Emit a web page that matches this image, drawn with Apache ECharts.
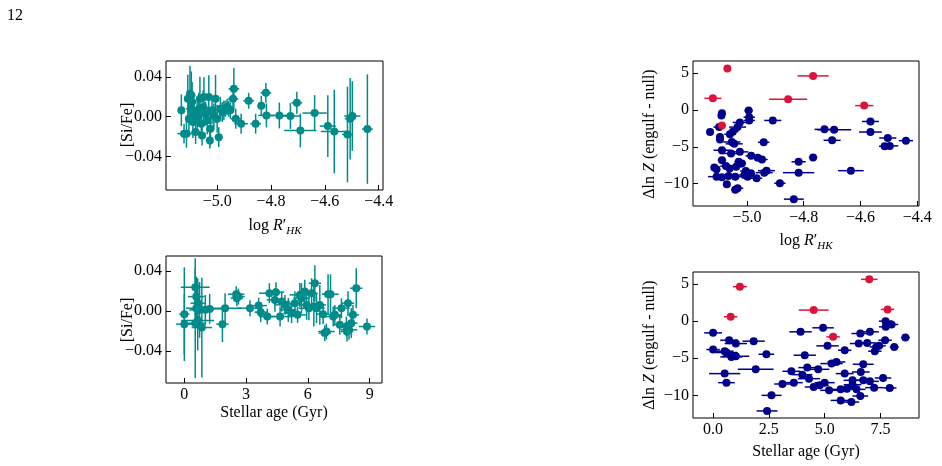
<!DOCTYPE html>
<html>
<head>
<meta charset="utf-8">
<script src="https://cdn.jsdelivr.net/npm/echarts@6/dist/echarts.min.js"></script>
<style>
  html, body { margin: 0; padding: 0; background: #fff; }
  #main { width: 942px; height: 466px; }
</style>
</head>
<body>
<div id="main"></div>
<script>
// ---- top left: log R'HK vs [Si/Fe] ----
var rhkSiX = [-5.133, -5.123, -5.114, -5.109, -5.105, -5.101, -5.096, -5.096, -5.093, -5.090,
  -5.086, -5.080, -5.074, -5.068, -5.064, -5.059, -5.056, -5.052, -5.049, -5.043,
  -5.037, -5.031, -5.027, -5.025, -5.019, -5.012, -5.006, -5.000, -4.994, -4.988,
  -4.981, -4.975, -4.969, -4.963, -4.957, -4.951, -4.938, -4.941, -4.931, -4.911,
  -4.883, -4.857, -4.836, -4.819, -4.817, -4.769, -4.728, -4.704, -4.691, -4.638,
  -4.589, -4.565, -4.516, -4.506, -4.498, -4.442];
var rhkSiY = [0.0064, -0.0170, -0.0171, 0.0181, -0.0020, 0.0232, 0.0215, 0.0081, 0.0148, -0.0054,
  0.0030, -0.0154, -0.0003, 0.0081, 0.0181, -0.0071, -0.0188, 0.0097, 0.0198, 0.0030,
  -0.0037, 0.0198, -0.0238, -0.0121, 0.0064, 0.0013, 0.0181, -0.0020, -0.0205, 0.0081,
  0.0047, 0.0064, 0.0081, 0.0097, 0.0081, 0.0064, 0.0280, 0.0180, -0.0020, -0.0070,
  0.0160, -0.0070, 0.0110, 0.0240, 0.0013, 0.0013, 0.0007, 0.0140, -0.0138, 0.0037,
  -0.0094, -0.0148, -0.0178, -0.0020, 0.0007, -0.0124];
var rhkSiXerr = [0.012, 0.025, 0.020, 0.012, 0.015, 0.010, 0.015, 0.020, 0.010, 0.015,
  0.012, 0.018, 0.015, 0.010, 0.015, 0.020, 0.010, 0.012, 0.015, 0.020,
  0.010, 0.015, 0.010, 0.015, 0.020, 0.015, 0.012, 0.010, 0.015, 0.010,
  0.012, 0.010, 0.012, 0.010, 0.010, 0.010, 0.020, 0.020, 0.020, 0.025,
  0.020, 0.020, 0.015, 0.020, 0.030, 0.040, 0.040, 0.020, 0.060, 0.045,
  0.030, 0.050, 0.020, 0.020, 0.030, 0.020];
var rhkSiYerr = [0.016, 0.010, 0.014, 0.024, 0.016, 0.028, 0.024, 0.014, 0.020, 0.016,
  0.012, 0.012, 0.018, 0.016, 0.022, 0.014, 0.010, 0.017, 0.020, 0.012,
  0.014, 0.022, 0.008, 0.016, 0.014, 0.012, 0.024, 0.014, 0.010, 0.012,
  0.010, 0.010, 0.008, 0.008, 0.008, 0.008, 0.021, 0.010, 0.010, 0.010,
  0.008, 0.010, 0.010, 0.010, 0.012, 0.013, 0.013, 0.011, 0.017, 0.018,
  0.031, 0.042, 0.048, 0.041, 0.035, 0.055];

// ---- top right: log R'HK vs delta ln Z ----
var rhkZBlueX = [-5.130, -5.088, -5.090, -5.098, -5.095, -5.095, -5.060, -5.050, -5.033, -5.025,
  -4.994, -4.992, -4.992, -5.053, -5.045, -5.088, -5.056, -5.025, -4.985, -4.962,
  -4.947, -5.088, -5.115, -5.107, -5.074, -5.061, -5.038, -5.029, -5.018, -5.107,
  -5.088, -5.065, -5.041, -5.009, -5.004, -4.998, -4.986, -4.966, -5.071, -5.041,
  -5.033, -4.941, -4.931, -4.939, -4.909, -4.884, -4.835, -4.818, -4.818, -4.767,
  -4.727, -4.693, -4.700, -4.634, -4.565, -4.565, -4.504, -4.515, -4.497, -4.440];
var rhkZBlueY = [-3.00, -0.45, -0.76, -2.33, -3.67, -4.03, -3.30, -2.96, -2.33, -1.70,
  -0.09, -0.99, -1.43, -4.35, -4.60, -5.47, -5.91, -5.69, -6.23, -6.50,
  -6.72, -6.81, -7.80, -8.06, -7.62, -7.93, -7.71, -7.03, -7.26, -9.05,
  -9.14, -8.96, -9.05, -8.83, -8.29, -9.05, -8.60, -9.27, -10.08, -10.84,
  -10.62, -4.39, -8.24, -8.51, -1.43, -9.95, -12.10, -7.03, -8.51, -6.45,
  -2.64, -2.69, -4.12, -8.24, -1.57, -3.00, -3.81, -4.93, -4.88, -4.17];
var rhkZBlueXerr = [0.010, 0.010, 0.010, 0.020, 0.010, 0.010, 0.020, 0.020, 0.030, 0.025,
  0.015, 0.020, 0.020, 0.030, 0.030, 0.030, 0.040, 0.030, 0.020, 0.020,
  0.020, 0.015, 0.010, 0.010, 0.020, 0.020, 0.020, 0.015, 0.015, 0.030,
  0.020, 0.020, 0.030, 0.020, 0.020, 0.020, 0.015, 0.020, 0.010, 0.015,
  0.020, 0.020, 0.030, 0.030, 0.030, 0.020, 0.035, 0.025, 0.055, 0.015,
  0.035, 0.060, 0.030, 0.045, 0.030, 0.040, 0.030, 0.020, 0.030, 0.025];
var rhkZRedX = [-5.069, -5.120, -4.767, -4.855, -4.587, -5.088];
var rhkZRedY = [5.60, 1.57, 4.61, 1.43, 0.58, -2.10];
var rhkZRedXerr = [0.010, 0.030, 0.055, 0.067, 0.032, 0.008];

// ---- bottom left: stellar age vs [Si/Fe] ----
var ageSiX = [0.00, 0.00, 0.53, 0.58, 0.65, 0.58, 0.74, 0.53, 0.65, 0.85,
  1.23, 1.02, 1.85, 1.98, 2.52, 2.63, 2.55, 3.19, 3.61, 3.71,
  4.03, 4.13, 4.45, 4.40, 4.65, 4.73, 4.89, 5.05, 5.21, 5.37,
  5.50, 5.61, 5.69, 5.85, 5.94, 6.05, 6.18, 6.29, 6.34, 6.42,
  6.58, 6.74, 6.82, 6.90, 6.98, 7.10, 7.23, 7.31, 7.55, 7.63,
  7.87, 7.90, 7.95, 8.00, 8.11, 8.19, 8.35, 8.87];
var ageSiY = [-0.0033, -0.0133, 0.0237, 0.0143, 0.0077, 0.0027, 0.0010, -0.0123, -0.0097, -0.0167,
  0.0020, 0.0010, -0.0133, 0.0027, 0.0167, 0.0143, 0.0127, 0.0027, 0.0053, -0.0013,
  -0.0057, 0.0177, 0.0187, 0.0110, -0.0057, 0.0093, 0.0060, 0.0010, -0.0023, 0.0077,
  -0.0040, 0.0160, 0.0127, 0.0193, 0.0060, 0.0027, 0.0177, 0.0043, 0.0277, 0.0027,
  0.0060, -0.0033, -0.0223, -0.0207, 0.0167, 0.0167, -0.0057, -0.0040, -0.0140, 0.0027,
  -0.0157, -0.0207, 0.0077, -0.0190, -0.0123, -0.0040, 0.0227, -0.0157];
var ageSiXerr = [0.25, 0.40, 0.70, 0.40, 0.35, 0.50, 0.50, 0.50, 0.80, 0.50,
  0.60, 0.40, 0.30, 0.80, 0.40, 0.30, 0.30, 0.60, 0.40, 0.30,
  0.40, 0.50, 0.40, 0.40, 0.50, 0.40, 0.50, 0.40, 0.40, 0.30,
  0.40, 0.50, 0.40, 0.30, 0.40, 0.50, 0.30, 0.40, 0.30, 0.40,
  0.30, 0.30, 0.30, 0.40, 0.30, 0.40, 0.40, 0.30, 0.30, 0.40,
  0.30, 0.30, 0.30, 0.40, 0.30, 0.30, 0.30, 0.40];
var ageSiYerr = [0.047, 0.030, 0.029, 0.020, 0.025, 0.020, 0.028, 0.055, 0.030, 0.050,
  0.015, 0.015, 0.018, 0.015, 0.008, 0.008, 0.008, 0.008, 0.008, 0.010,
  0.008, 0.010, 0.010, 0.012, 0.010, 0.010, 0.010, 0.012, 0.010, 0.012,
  0.008, 0.012, 0.015, 0.012, 0.015, 0.012, 0.015, 0.020, 0.018, 0.015,
  0.020, 0.010, 0.008, 0.008, 0.020, 0.020, 0.010, 0.010, 0.010, 0.010,
  0.010, 0.010, 0.012, 0.010, 0.015, 0.010, 0.020, 0.008];

// ---- bottom right: stellar age vs delta ln Z ----
var ageZBlueX = [0.00, 0.00, 0.52, 0.60, 0.72, 0.82, 1.02, 1.02, 0.52, 0.60,
  1.82, 2.39, 1.91, 2.62, 2.42, 3.11, 3.51, 3.62, 3.92, 4.11,
  4.00, 4.22, 4.30, 4.51, 4.71, 4.78, 5.00, 4.93, 5.13, 5.20,
  5.31, 5.53, 5.72, 5.72, 5.90, 5.90, 6.20, 6.00, 6.25, 6.25,
  6.43, 6.53, 6.60, 6.60, 6.62, 6.73, 6.73, 6.91, 7.03, 7.03,
  7.22, 7.32, 7.44, 7.25, 7.62, 7.71, 7.73, 7.74, 7.92, 8.00,
  8.12, 8.62];
var ageZBlueY = [-1.58, -3.83, -4.05, -4.23, -2.57, -4.82, -4.73, -3.02, -7.07, -8.29,
  -2.70, -4.46, -6.49, -10.00, -12.10, -8.47, -6.76, -8.29, -1.44, -4.59,
  -7.21, -6.26, -7.75, -8.87, -6.49, -8.65, -8.29, -0.90, -3.33, -9.32,
  -5.72, -5.50, -10.68, -9.19, -3.92, -7.07, -10.90, -9.10, -8.56, -7.97,
  -9.19, -3.02, -1.67, -10.09, -6.85, -5.81, -7.97, -2.93, -1.44, -8.11,
  -8.96, -3.47, -3.33, -4.05, -7.66, -2.57, 0.00, -0.77, -9.00, -0.45,
  -3.47, -2.21];
var ageZBlueXerr = [0.40, 0.30, 0.40, 0.50, 0.40, 0.50, 0.60, 0.50, 0.70, 0.37,
  0.50, 0.35, 0.80, 0.45, 0.47, 0.37, 0.40, 0.40, 0.50, 0.50,
  0.45, 0.40, 0.50, 0.40, 0.50, 0.40, 0.45, 0.48, 0.50, 0.40,
  0.50, 0.40, 0.45, 0.40, 0.30, 0.40, 0.35, 0.40, 0.40, 0.40,
  0.40, 0.40, 0.40, 0.35, 0.40, 0.47, 0.40, 0.40, 0.40, 0.40,
  0.40, 0.30, 0.30, 0.30, 0.37, 0.30, 0.30, 0.30, 0.30, 0.30,
  0.20, 0.20];
var ageZRedX = [1.20, 0.79, 4.51, 5.38, 7.00, 7.82];
var ageZRedY = [4.64, 0.59, 1.49, -2.12, 5.63, 1.58];
var ageZRedXerr = [0.31, 0.30, 0.67, 0.30, 0.37, 0.30];

var teal = '#008b8b';
var navy = '#00008b';
var crimson = '#dc143c';
var serif = '"Liberation Serif", "DejaVu Serif", serif';

function fmt(d) {
  return function (v) { return v.toFixed(d).replace('-', '\u2212'); };
}

// error bar lines, drawn through the axis scales
function errSeries(g, xs, ys, xe, ye, color) {
  var data = xs.map(function (x, i) { return [x, ys[i], xe[i], ye ? ye[i] : 0]; });
  return {
    type: 'custom', xAxisIndex: g, yAxisIndex: g, silent: true, clip: true, z: 1,
    data: data,
    encode: { x: 0, y: 1 },
    renderItem: function (params, api) {
      var x = api.value(0), y = api.value(1), dx = api.value(2), dy = api.value(3);
      var kids = [];
      var a = api.coord([x - dx, y]), b = api.coord([x + dx, y]);
      kids.push({ type: 'line', shape: { x1: a[0], y1: a[1], x2: b[0], y2: b[1] },
        style: { stroke: color, lineWidth: 1.5 } });
      if (dy > 0) {
        var c = api.coord([x, y - dy]), d = api.coord([x, y + dy]);
        kids.push({ type: 'line', shape: { x1: c[0], y1: c[1], x2: d[0], y2: d[1] },
          style: { stroke: color, lineWidth: 1.5 } });
      }
      return { type: 'group', children: kids };
    }
  };
}

function dotSeries(g, xs, ys, color) {
  return {
    type: 'scatter', xAxisIndex: g, yAxisIndex: g, z: 2, silent: true,
    symbol: 'circle', symbolSize: 8,
    itemStyle: { color: color, opacity: 1 },
    data: xs.map(function (x, i) { return [x, ys[i]]; })
  };
}

function axis(g, min, max, ticks, d) {
  return {
    type: 'value', gridIndex: g, min: min, max: max,
    splitLine: { show: false },
    axisLine: { show: false, onZero: false },
    axisTick: { show: true, inside: true, length: 5, customValues: ticks,
      lineStyle: { color: '#000', width: 1 } },
    axisLabel: { show: true, customValues: ticks, formatter: fmt(d), margin: 4,
      color: '#000', fontFamily: serif, fontSize: 16 }
  };
}

var chart = echarts.init(document.getElementById('main'), null, { renderer: 'canvas' });

var gridBase = { show: true, borderColor: '#000', borderWidth: 1, containLabel: false, outerBoundsMode: 'none' };

var option = {
  animation: false,
  backgroundColor: '#fff',
  grid: [
    Object.assign({ left: 166, top: 61, width: 217, height: 129 }, gridBase),
    Object.assign({ left: 693, top: 61, width: 226, height: 145 }, gridBase),
    Object.assign({ left: 166, top: 256, width: 216, height: 127 }, gridBase),
    Object.assign({ left: 693, top: 272, width: 226, height: 146 }, gridBase)
  ],
  xAxis: [
    axis(0, -5.19, -4.384, [-5.0, -4.8, -4.6, -4.4], 1),
    axis(1, -5.19, -4.394, [-5.0, -4.8, -4.6, -4.4], 1),
    axis(2, -0.89, 9.6, [0, 3, 6, 9], 0),
    axis(3, -0.9, 9.23, [0, 2.5, 5, 7.5], 1)
  ],
  yAxis: [
    axis(0, -0.0736, 0.056, [-0.04, 0, 0.04], 2),
    axis(1, -13.03, 6.63, [-10, -5, 0, 5], 0),
    axis(2, -0.0723, 0.055, [-0.04, 0, 0.04], 2),
    axis(3, -13.05, 6.62, [-10, -5, 0, 5], 0)
  ],
  series: [
    errSeries(0, rhkSiX, rhkSiY, rhkSiXerr, rhkSiYerr, teal),
    dotSeries(0, rhkSiX, rhkSiY, teal),
    errSeries(1, rhkZBlueX, rhkZBlueY, rhkZBlueXerr, null, navy),
    dotSeries(1, rhkZBlueX, rhkZBlueY, navy),
    errSeries(1, rhkZRedX, rhkZRedY, rhkZRedXerr, null, crimson),
    dotSeries(1, rhkZRedX, rhkZRedY, crimson),
    errSeries(2, ageSiX, ageSiY, ageSiXerr, ageSiYerr, teal),
    dotSeries(2, ageSiX, ageSiY, teal),
    errSeries(3, ageZBlueX, ageZBlueY, ageZBlueXerr, null, navy),
    dotSeries(3, ageZBlueX, ageZBlueY, navy),
    errSeries(3, ageZRedX, ageZRedY, ageZRedXerr, null, crimson),
    dotSeries(3, ageZRedX, ageZRedY, crimson)
  ],
  graphic: []
};

// axis titles and page number
var rhkRich = {
  n: { fontFamily: serif, fontSize: 16, lineHeight: 22, fill: '#000' },
  i: { fontFamily: serif, fontSize: 16, fontStyle: 'italic', lineHeight: 22, fill: '#000' },
  s: { fontFamily: serif, fontSize: 11, fontStyle: 'italic', lineHeight: 12, verticalAlign: 'bottom', fill: '#000' }
};
var zRich = {
  n: { fontFamily: serif, fontSize: 16, fill: '#000' },
  i: { fontFamily: serif, fontSize: 16, fontStyle: 'italic', fill: '#000' }
};
function title(x, y, text, rot, rich) {
  return {
    type: 'text', x: x, y: y, rotation: rot || 0, silent: true,
    style: { text: text, rich: rich, fontFamily: serif, fontSize: 16, fill: '#000',
      align: 'center', verticalAlign: 'middle' }
  };
}
option.graphic = [
  { type: 'text', left: 7, top: 8, silent: true,
    style: { text: '12', fontFamily: serif, fontSize: 16, fill: '#000' } },
  title(128, 125, '[Si/Fe]', Math.PI / 2),
  title(128, 320, '[Si/Fe]', Math.PI / 2),
  title(650, 134, '{n|\u0394ln }{i|Z}{n| (engulf - null)}', Math.PI / 2, zRich),
  title(650, 345, '{n|\u0394ln }{i|Z}{n| (engulf - null)}', Math.PI / 2, zRich),
  title(275, 226, '{n|log }{i|R}{n|\u2032}{s|HK}', 0, rhkRich),
  title(806, 241, '{n|log }{i|R}{n|\u2032}{s|HK}', 0, rhkRich),
  title(274, 413, 'Stellar age (Gyr)'),
  title(806, 452, 'Stellar age (Gyr)')
];

chart.setOption(option);
</script>
</body>
</html>
